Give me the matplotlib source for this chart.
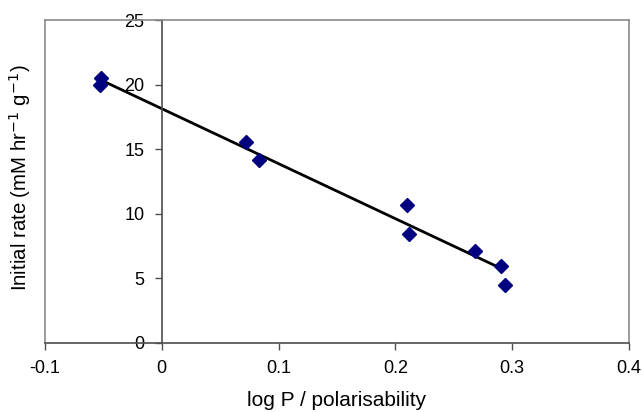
import numpy as np
import matplotlib.pyplot as plt
from matplotlib.lines import Line2D

plt.rcParams['font.family'] = ['Liberation Sans', 'DejaVu Sans']

# data
log_p = [-0.052, -0.053, 0.072, 0.083, 0.210, 0.2115, 0.268, 0.2905, 0.294]
rate = [20.5, 20.0, 15.6, 14.15, 10.65, 8.45, 7.1, 6.0, 4.5]

x_ticks = [-0.1, 0, 0.1, 0.2, 0.3, 0.4]
x_labels = ['-0.1', '0', '0.1', '0.2', '0.3', '0.4']
y_ticks = [0, 5, 10, 15, 20, 25]

# linear trendline
slope, icpt = np.polyfit(log_p, rate, 1)
xfit = np.array([min(log_p), max(log_p) - 0.003])

fig = plt.figure(figsize=(6.43, 4.12), dpi=100)
ax = fig.add_axes([0.070, 0.1675, 0.908, 0.7835])

ax.plot(xfit, slope*xfit + icpt, color='black', lw=2, zorder=2)
ax.plot(log_p, rate, 'D', color='#000080', ms=7.5, mec='#000080', zorder=3)

ax.set_xlim(-0.1, 0.4)
ax.set_ylim(0, 25)
ax.set_xticks(x_ticks)
ax.set_xticklabels(x_labels)
ax.set_yticks(y_ticks)

frame = '#8a8a8a'
axis_c = '#4d4d4d'
ax.spines['left'].set_position(('data', 0))
ax.spines['left'].set_color(axis_c)
ax.spines['bottom'].set_color(axis_c)
ax.spines['top'].set_color(frame)
ax.spines['right'].set_color(frame)
for s in ax.spines.values():
    s.set_linewidth(1.2)
# left edge of the plot frame
ax.add_line(Line2D([0, 0], [0, 1], transform=ax.transAxes, color=frame,
                   lw=1.2, clip_on=False))

ax.tick_params(axis='x', direction='out', length=5, width=1, color=axis_c,
               pad=7.5, labelsize=13)
ax.tick_params(axis='y', direction='out', length=5, width=1, color=axis_c,
               pad=7.5, labelsize=13)

ax.set_xlabel('log P / polarisability', fontsize=15, labelpad=9.5)
ax.set_ylabel('Initial rate (mM hr$^{-1}$ g$^{-1}$)', fontsize=14.7)
ax.yaxis.set_label_coords(-0.021, 0.512, transform=ax.transAxes)

fig.savefig('out.png', dpi=100)
